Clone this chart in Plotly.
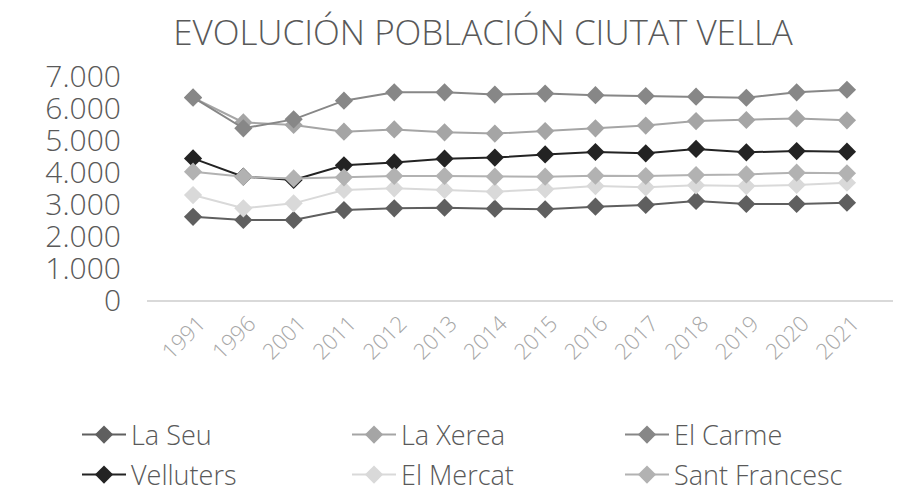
import plotly.graph_objects as go

years = ["1991", "1996", "2001", "2011", "2012", "2013", "2014", "2015", "2016", "2017", "2018", "2019", "2020", "2021"]

la_seu = [2600, 2500, 2500, 2810, 2865, 2885, 2855, 2835, 2915, 2970, 3095, 3000, 3000, 3040]
la_xerea = [6320, 5550, 5470, 5260, 5330, 5240, 5200, 5280, 5365, 5450, 5590, 5625, 5675, 5615]
el_carme = [6330, 5365, 5645, 6230, 6490, 6490, 6420, 6450, 6400, 6375, 6355, 6320, 6490, 6570]
velluters = [4425, 3855, 3750, 4210, 4300, 4415, 4450, 4550, 4625, 4585, 4720, 4615, 4655, 4635]
el_mercat = [3280, 2865, 3020, 3440, 3490, 3440, 3385, 3460, 3560, 3520, 3585, 3560, 3595, 3665]
sant_francesc = [4010, 3850, 3800, 3835, 3875, 3875, 3855, 3855, 3885, 3875, 3905, 3925, 3980, 3960]

series = [
    ("La Seu", la_seu, "#5f5f5f"),
    ("La Xerea", la_xerea, "#a5a5a5"),
    ("El Carme", el_carme, "#878787"),
    ("Velluters", velluters, "#232323"),
    ("El Mercat", el_mercat, "#d9d9d9"),
    ("Sant Francesc", sant_francesc, "#b2b2b2"),
]

FONT = "Open Sans, Lato, sans-serif"
leg_ids = ["legend", "legend2", "legend3", "legend4", "legend5", "legend6"]
col_x = [77, 347, 620]
row_y = [435, 475]

fig = go.Figure()
for i, (name, vals, col) in enumerate(series):
    fig.add_trace(go.Scatter(
        x=years, y=vals, name=name, mode="lines+markers", legend=leg_ids[i],
        line=dict(color=col, width=2),
        marker=dict(symbol="diamond", size=14, color=col),
    ))

legends = {}
for i, lid in enumerate(leg_ids):
    legends[lid] = dict(orientation="h", xref="container", yref="container",
                        x=col_x[i % 3] / 912, xanchor="left",
                        y=1 - row_y[i // 3] / 493, yanchor="middle", itemwidth=44,
                        font=dict(family=FONT, size=27, color="#595959", weight=300))

fig.update_layout(
    width=912, height=493,
    paper_bgcolor="white", plot_bgcolor="white",
    margin=dict(l=147, r=19, t=76, b=193, autoexpand=False),
    separators=",.",
    title=dict(text="EVOLUCIÓN POBLACIÓN CIUTAT VELLA", x=483/912, xanchor="center",
               y=1-33/493, yanchor="middle", automargin=False,
               font=dict(family=FONT, size=35, color="#595959", weight=300)),
    font=dict(family=FONT, color="#595959"),
    xaxis=dict(type="category", showgrid=False, showline=True, linecolor="#d9d9d9", linewidth=2,
               ticks="", tickangle=-45, ticklabelshift=6,
               tickfont=dict(size=22, color="#a6a6a6", weight=300),
               zeroline=False),
    yaxis=dict(range=[0, 7000], dtick=1000, tickformat=",.0f", showgrid=False, showline=False,
               zeroline=False, ticks="outside", ticklen=19, tickcolor="rgba(0,0,0,0)",
               tickfont=dict(size=30, color="#595959", weight=300)),
    showlegend=True,
    **legends,
)

fig.write_html("out.html", post_script="document.body.style.margin='0';",
               config={"displayModeBar": False})
